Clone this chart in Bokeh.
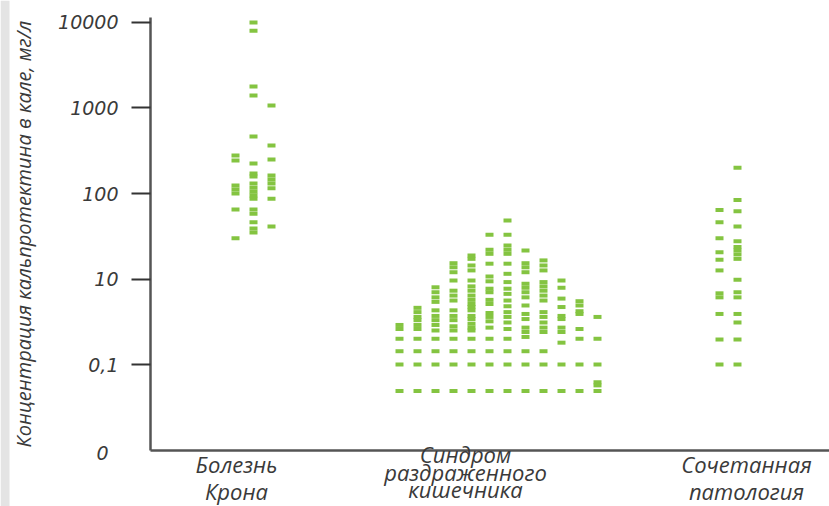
from bokeh.plotting import figure
from bokeh.models import (Range1d, FixedTicker, Label, ColumnDataSource, LogAxis, LinearAxis,
                          BoxAnnotation)
from bokeh.embed import file_html
from bokeh.resources import INLINE

# ---------------- data ----------------
category_lines = [["Болезнь", "Крона"],
                  ["Синдром", "раздраженного", "кишечника"],
                  ["Сочетанная", "патология"]]

crohn = [
    [278, 243, 124, 111, 100, 65, 30],
    [10000, 8000, 1780, 1400, 464, 224, 171, 158, 131, 117, 105, 95, 87, 65, 58, 46, 39, 35],
    [1070, 364, 250, 162, 146, 131, 115, 87, 41],
]

ibs = [
    [2.9, 2.6, 2.0, 1.43, 1.0, 0.49],
    [4.6, 4.1, 3.6, 3.3, 2.9, 2.6, 2.0, 1.43, 1.0, 0.49],
    [8.0, 7.0, 6.1, 5.4, 4.3, 3.7, 3.3, 2.9, 2.5, 2.0, 1.43, 1.0, 0.49],
    [15.3, 13.7, 12.0, 9.6, 7.3, 6.4, 5.6, 4.3, 3.7, 3.3, 2.8, 2.5, 2.0, 1.43, 1.0, 0.49],
    [18.8, 17.2, 14.4, 12.6, 9.6, 8.2, 7.3, 6.4, 5.7, 5.1, 4.7, 4.3, 3.7, 3.4, 3.0, 2.7, 2.5,
     2.0, 1.43, 1.0, 0.49],
    [32.9, 22, 19.7, 15.1, 10.7, 9.4, 7.7, 7.0, 5.7, 5.1, 4.0, 3.6, 3.2, 2.7, 2.0, 1.43, 1.0, 0.49],
    [48.3, 32.9, 24.7, 22, 19.7, 15.1, 11.5, 9.2, 7.7, 6.7, 5.6, 4.8, 4.1, 3.6, 3.1, 2.6,
     2.0, 1.43, 1.0, 0.49],
    [21.5, 15.3, 13.7, 12.0, 8.8, 7.9, 7.0, 6.1, 4.9, 3.9, 3.4, 2.7, 2.4, 2.1, 1.43, 1.0, 0.49],
    [16.5, 14.4, 12.6, 9.2, 8.2, 7.3, 6.4, 5.6, 4.1, 3.6, 3.1, 2.7, 2.4, 1.43, 1.0, 0.49],
    [9.6, 7.9, 5.9, 4.7, 3.7, 3.4, 2.7, 2.4, 1.8, 1.0, 0.49],
    [5.5, 4.9, 4.2, 3.9, 2.6, 2.0, 1.0, 0.49],
    [3.6, 2.0, 1.0, 0.62, 0.57, 0.49],
]

combined = [
    [64, 46, 30, 20.6, 16.8, 12.6, 6.8, 6.1, 3.9, 1.96, 1.0],
    [200, 84, 62, 41, 27.7, 23.6, 21.5, 19.4, 17.2, 9.8, 7.0, 6.1, 3.9, 3.1, 1.96, 1.0],
]

groups = [crohn, ibs, combined]

y_ticks = [1, 10, 100, 1000, 10000]
y_tick_labels = ["0,1", "10", "100", "1000", "10000"]
y_zero_label = "0"
y_title = "Концентрация кальпротектина в кале, мг/л"

# ---------------- layout (x in screen-pixel-like units) ----------------
W, H = 829, 506
axis_x = 150                      # where the value axis sits
group_centers = [253, 498, 728]
col_step = 18
label_centers = [236, 465, 746]
y_top = 10 ** 4.2573              # value at the top edge of the canvas
y_bottom = 10 ** -1.6608          # value at the bottom edge of the canvas
y_axis_top = 10 ** 4.0585         # where the axis line ends at the top
y_axis_bottom = 0.1

xs, ys = [], []
for center, cols in zip(group_centers, groups):
    n = len(cols)
    for i, col in enumerate(cols):
        x = center + (i - (n - 1) / 2) * col_step
        for v in col:
            xs.append(x)
            ys.append(v)

src = ColumnDataSource(dict(x=xs, y=ys))

TEXT = "#3a3a3a"
FONT = "Open Sans"
TICK_FONT = "DejaVu Sans"
AXIS = "#555555"

p = figure(width=W, height=H, output_backend="svg", toolbar_location=None,
           y_axis_type="log", x_axis_location=None, y_axis_location=None,
           x_range=Range1d(0, W), y_range=Range1d(y_bottom, y_top),
           min_border=0)
p.outline_line_color = None
p.xgrid.visible = False
p.ygrid.visible = False
p.background_fill_color = "white"
p.border_fill_color = "white"

# light grey strip at the left edge, as in the scanned original
p.add_layout(BoxAnnotation(left=0, right=9, left_units="screen", right_units="screen",
                           fill_color="#e4e4e4", fill_alpha=1.0, line_color=None,
                           level="underlay"))

p.rect(x="x", y="y", width=8, height=4, width_units="screen", height_units="screen",
       source=src, fill_color="#84c441", line_color=None)

# y axis, fixed at the left of the data area
ya = LogAxis(fixed_location=axis_x, bounds=(y_axis_bottom, y_axis_top))
ya.ticker = FixedTicker(ticks=y_ticks, minor_ticks=[])
ya.major_label_overrides = {t: l for t, l in zip(y_ticks, y_tick_labels)}
ya.axis_line_color = AXIS
ya.axis_line_width = 2.5
ya.major_tick_line_color = "#333333"
ya.major_tick_line_width = 2
ya.major_tick_out = 19
ya.major_tick_in = 0
ya.minor_tick_line_color = None
ya.major_label_standoff = 13
ya.major_label_text_font = TICK_FONT
ya.major_label_text_font_style = "italic"
ya.major_label_text_font_size = "19px"
ya.major_label_text_color = TEXT
ya.axis_label = y_title
ya.axis_label_text_font = FONT
ya.axis_label_text_font_style = "italic"
ya.axis_label_text_font_size = "20px"
ya.axis_label_text_color = TEXT
ya.axis_label_standoff = 18
p.add_layout(ya, "left")

# x axis (line only), fixed at the bottom of the value axis
xa = LinearAxis(fixed_location=y_axis_bottom, bounds=(axis_x, W))
xa.ticker = FixedTicker(ticks=[])
xa.axis_line_color = AXIS
xa.axis_line_width = 2.5
xa.major_tick_line_color = None
xa.minor_tick_line_color = None
xa.major_label_text_font_size = "0px"
p.add_layout(xa, "below")

# "0" label at the bottom of the y axis
p.add_layout(Label(x=108, y=H - 452, x_units="data", y_units="screen", text=y_zero_label,
                   text_font=TICK_FONT, text_font_style="italic", text_font_size="19px",
                   text_color=TEXT, text_align="right", text_baseline="middle"))

# category labels
line_pos = {2: [463, 490], 3: [453, 471, 488]}
for cx, lines in zip(label_centers, category_lines):
    for txt, py in zip(lines, line_pos[len(lines)]):
        p.add_layout(Label(x=cx, y=H - py, x_units="data", y_units="screen", text=txt,
                           text_font=FONT, text_font_style="italic", text_font_size="22px",
                           text_color=TEXT, text_align="center", text_baseline="middle"))

open("out.html", "w").write(file_html(p, INLINE))
